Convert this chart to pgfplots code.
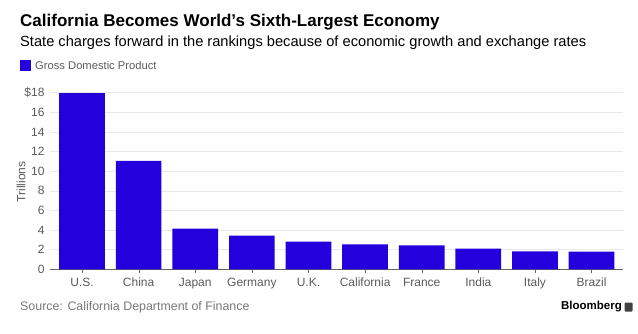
\documentclass[border=0pt]{standalone}
\usepackage{pgfplots}
\pgfplotsset{compat=1.18}
\usepackage{fontspec}
\setmainfont{Liberation Sans}
\definecolor{barblue}{RGB}{35,0,220}
\definecolor{txtgray}{RGB}{90,90,90}
\definecolor{srcgray}{RGB}{120,120,120}
\definecolor{gridgray}{RGB}{232,232,232}
\begin{document}
\begin{tikzpicture}[x=1bp,y=1bp]
\path[use as bounding box] (0,0) rectangle (638,333);
\node[anchor=west,inner sep=0] at (20,311) {\fontsize{17bp}{20bp}\selectfont\bfseries California Becomes World's Sixth-Largest Economy};
\node[anchor=west,inner sep=0] at (20,290) {\fontsize{14.65bp}{17bp}\selectfont State charges forward in the rankings because of economic growth and exchange rates};
\fill[barblue] (20,262) rectangle (31,273);
\node[anchor=west,inner sep=0,text=txtgray] at (35,267.5) {\fontsize{11.2bp}{13bp}\selectfont Gross Domestic Product};
\begin{axis}[
  at={(50bp,63.7bp)}, anchor=south west,
  scale only axis, width=572.7bp, height=176.6bp,
  xmin=-0.565, xmax=9.55, ymin=0, ymax=18,
  ybar, bar width=45.7bp,
  xtick=data,
  xticklabels={U.S.,China,Japan,Germany,U.K.,California,France,India,Italy,Brazil},
  ytick={0,2,4,6,8,10,12,14,16,18},
  yticklabels={0,2,4,6,8,10,12,14,16,\$18},
  axis x line*=bottom, axis y line*=left,
  y axis line style={draw=none},
  x axis line style={draw=black!60, line width=0.6pt},
  ymajorgrids, grid style={gridgray, line width=0.5pt},
  tick align=outside,
  major tick length=4bp,
  xtick style={draw=black!60},
  ytick style={draw=none},
  ticklabel style={font=\fontsize{12bp}{14bp}\selectfont, text=txtgray},
  /pgf/number format/assume math mode=true,
  xticklabel style={text height=9bp, text depth=2.5bp, yshift=-1bp},
  yticklabel style={xshift=2bp},
  ylabel={Trillions},
  every axis y label/.style={at={(ticklabel cs:0.5)}, rotate=90, anchor=center, xshift=-1bp, font=\fontsize{12bp}{14bp}\selectfont, text=txtgray},
  clip=false,
]
\addplot[fill=barblue, draw=none] coordinates {
(0,17.95) (1,11.05) (2,4.14) (3,3.43) (4,2.81) (5,2.55) (6,2.45) (7,2.1) (8,1.83) (9,1.80)
};
\end{axis}
\node[anchor=west,inner sep=0,text=srcgray] at (20,26) {\fontsize{12.4bp}{14bp}\selectfont Source: California Department of Finance};
\node[anchor=east,inner sep=0] at (622,26) {\fontsize{11.5bp}{14bp}\selectfont\bfseries Bloomberg};
\fill[black!75, rounded corners=1bp] (624.5,21.5) rectangle (632.5,30.5);
\end{tikzpicture}
\end{document}
